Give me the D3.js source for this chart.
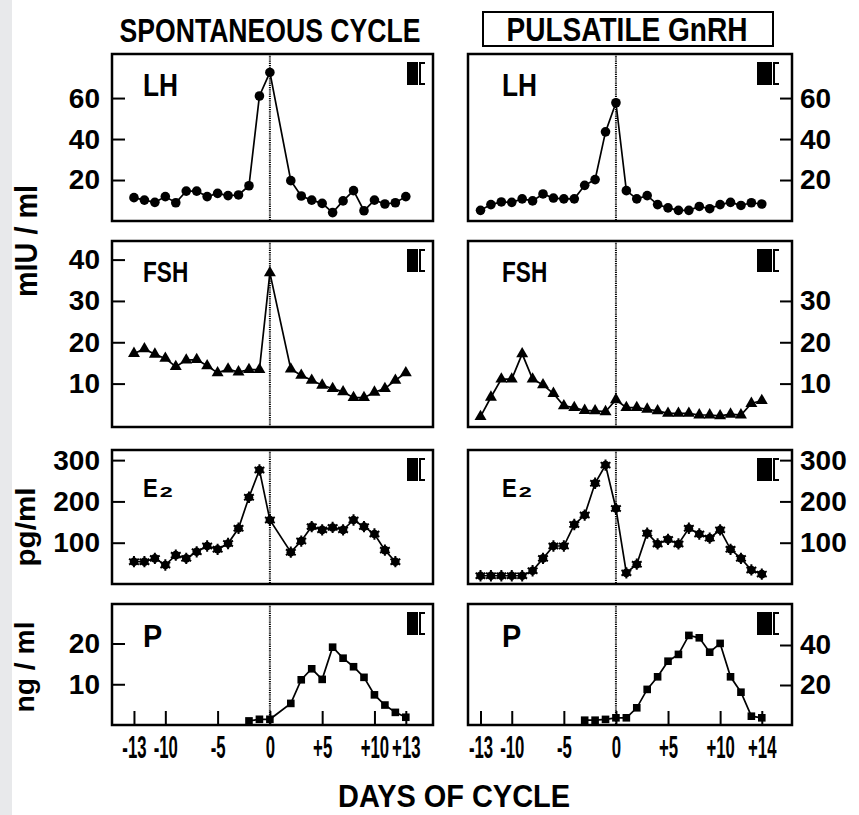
<!DOCTYPE html>
<html><head><meta charset="utf-8">
<script src="https://cdn.jsdelivr.net/npm/d3@7"></script>
<style>
html,body{margin:0;padding:0;background:#fff;}
svg{display:block;}
</style></head>
<body>
<script>
// ---------------- DATA ----------------
const daysSpont = [-13,-12,-11,-10,-9,-8,-7,-6,-5,-4,-3,-2,-1,0,2,3,4,5,6,7,8,9,10,11,12,13];
const daysPuls  = [-13,-12,-11,-10,-9,-8,-7,-6,-5,-4,-3,-2,-1,0,1,2,3,4,5,6,7,8,9,10,11,12,13,14];
const lhSpont  = [11.4,10.2,9.1,11.9,8.9,14.6,14.6,11.9,13.5,12.4,12.7,17.2,61,72.5,19.7,12.2,10.2,8.6,4.1,9.8,14.8,5.0,10.2,8.3,8.9,11.9];
const lhPuls   = [5.2,8,9.3,9.1,10.8,9.8,13.2,11.2,10.8,10.8,17.4,20.2,43.5,57.7,14.8,10.8,12.4,8,6.4,5.2,5.2,7.1,6,8,9.1,7.6,8.9,8.3];
const fshSpont = [17.3,18.4,17.1,16.1,14.1,15.7,15.8,14.3,12.6,13.5,12.8,13.4,13.4,36.8,13.5,12,10.8,9.6,8.8,8,6.6,6.6,7.9,8.8,10.8,12.6];
const fshPuls  = [2.0,6.7,11.1,11.1,17.2,11.1,9.7,7.6,4.6,4.2,3.5,3.4,3.2,6.1,4.2,4.2,3.8,3.4,2.8,2.8,2.8,2.4,2.4,2.2,2.6,2.4,5.2,5.9];
const e2SpontDays = [-13,-12,-11,-10,-9,-8,-7,-6,-5,-4,-3,-2,-1,0,2,3,4,5,6,7,8,9,10,11,12];
const e2Spont  = [54,54,62,46,70,62,78,92,84,98,135,210,276,155,77,104,139,131,137,131,155,139,121,82,54];
const e2Puls   = [20,20,20,20,20,32,62,92,92,144,167,244,288,183,27,48,123,97,108,97,135,121,111,131,84,62,34,24];
const pSpontDays = [-2,-1,0,2,3,4,5,6,7,8,9,10,11,12,13];
const pSpont   = [1.0,1.4,1.4,5.3,11.1,13.8,11.2,19.1,16.4,14.3,11.7,7.4,4.9,3.1,1.9];
const pPulsDays = [-3,-2,-1,0,1,2,3,4,5,6,7,8,9,10,11,12,13,14];
const pPuls    = [2.4,2.4,2.8,3.6,3.6,8.6,17.8,24.1,31.9,35.3,44.8,43.6,36.4,40.8,24.1,16.4,4.4,3.6];

const xTicksSpont = [-13,-10,-5,0,5,10,13];
const xTicksPuls  = [-13,-10,-5,0,5,10,14];
const lhTicks = [20,40,60];
const fshTicksSpont = [10,20,30,40];
const fshTicksPuls = [10,20,30];
const e2Ticks = [100,200,300];
const pTicksSpont = [10,20];
const pTicksPuls = [20,40];

const colTitles = ["SPONTANEOUS CYCLE","PULSATILE GnRH"];
const yTitles = ["mIU / ml","pg/ml","ng / ml"];
const xTitle = "DAYS OF CYCLE";

// ---------------- LAYOUT ----------------
const W = 859, H = 815;
const FONT = "'Liberation Sans',Arial,sans-serif";

const svg = d3.select("body").append("svg").attr("width",W).attr("height",H);
svg.append("rect").attr("x",0).attr("y",0).attr("width",W).attr("height",H).attr("fill","#fff");
svg.append("rect").attr("x",0).attr("y",0).attr("width",12).attr("height",H).attr("fill","#e8e9eb");

function squeeze(sel, f) {
  sel.each(function(){
    const L = this.getComputedTextLength();
    if (L > 0) d3.select(this).attr("textLength", L*f).attr("lengthAdjust","spacingAndGlyphs");
  });
}

const cols = [
  {x0:112, x1:433, dom:[-15.1,15.6], side:"left"},
  {x0:468, x1:792, dom:[-14.2,16.9], side:"right"}
];
const rows = [
  {y0:54, y1:221},
  {y0:241, y1:427},
  {y0:450, y1:584},
  {y0:604, y1:725}
];

const fmtX = d => d>0 ? "+"+d : (d<0 ? "-"+Math.abs(d) : "0");

const panels = [
  {r:0,c:0,days:daysSpont,vals:lhSpont,dom:[0,81.5],ticks:lhTicks,marker:"circle",name:"LH"},
  {r:0,c:1,days:daysPuls,vals:lhPuls,dom:[0,81.5],ticks:lhTicks,marker:"circle",name:"LH"},
  {r:1,c:0,days:daysSpont,vals:fshSpont,dom:[-0.5,44.5],ticks:fshTicksSpont,marker:"triangle",name:"FSH"},
  {r:1,c:1,days:daysPuls,vals:fshPuls,dom:[-0.5,44.5],ticks:fshTicksPuls,marker:"triangle",name:"FSH"},
  {r:2,c:0,days:e2SpontDays,vals:e2Spont,dom:[0,324.5],ticks:e2Ticks,marker:"star",name:"E"},
  {r:2,c:1,days:daysPuls,vals:e2Puls,dom:[0,324.5],ticks:e2Ticks,marker:"star",name:"E"},
  {r:3,c:0,days:pSpontDays,vals:pSpont,dom:[0,29.7],ticks:pTicksSpont,marker:"square",name:"P",xt:xTicksSpont},
  {r:3,c:1,days:pPulsDays,vals:pPuls,dom:[0,60.5],ticks:pTicksPuls,marker:"square",name:"P",xt:xTicksPuls}
];

const nameSize = {LH:32, FSH:29, E:26, P:32};
const nameDy = {LH:42, FSH:41, E:47, P:43};
const nameSq = {LH:0.82, FSH:0.78, E:0.85, P:0.9};

panels.forEach(p => {
  const col = cols[p.c], row = rows[p.r];
  const x = d3.scaleLinear().domain(col.dom).range([col.x0, col.x1]);
  const y = d3.scaleLinear().domain(p.dom).range([row.y1, row.y0]);
  const g = svg.append("g");

  let ax, tx;
  if (col.side === "left") {
    ax = d3.axisLeft(y).tickValues(p.ticks).tickSize(-13).tickPadding(12).tickFormat(d3.format("d"));
    tx = col.x0;
  } else {
    ax = d3.axisRight(y).tickValues(p.ticks).tickSize(-12).tickPadding(8).tickFormat(d3.format("d"));
    tx = col.x1;
  }
  const ga = g.append("g").attr("transform",`translate(${tx},0)`).call(ax);
  ga.select(".domain").remove();
  ga.selectAll(".tick line").attr("stroke","#000").attr("stroke-width",2);
  ga.selectAll(".tick text").attr("font-family",FONT).attr("font-weight","bold").attr("font-size",28).attr("fill","#000");

  if (p.xt) {
    const bx = d3.axisBottom(x).tickValues(p.xt).tickSize(-14).tickPadding(11).tickFormat(fmtX);
    const gb = g.append("g").attr("transform",`translate(0,${row.y1})`).call(bx);
    gb.select(".domain").remove();
    gb.selectAll(".tick line").attr("stroke","#000").attr("stroke-width",2);
    gb.selectAll(".tick text").attr("font-family",FONT).attr("font-weight","bold").attr("font-size",31)
      .attr("fill","#000").attr("transform","scale(0.54,1)");
  }

  g.append("line").attr("x1",x(0)).attr("x2",x(0)).attr("y1",row.y0).attr("y2",row.y1)
    .attr("stroke","#000").attr("stroke-width",2).attr("stroke-dasharray","1.2,1");

  g.append("rect").attr("x",col.x0).attr("y",row.y0).attr("width",col.x1-col.x0).attr("height",row.y1-row.y0)
    .attr("fill","none").attr("stroke","#000").attr("stroke-width",2.5);

  const pts = p.days.map((d,i)=>[d,p.vals[i]]);
  g.append("path").datum(pts)
    .attr("d", d3.line().x(d=>x(d[0])).y(d=>y(d[1])))
    .attr("fill","none").attr("stroke","#000").attr("stroke-width",1.7);

  const mg = g.append("g");
  pts.forEach(d => {
    const cx = x(d[0]), cy = y(d[1]);
    if (p.marker === "circle") {
      mg.append("circle").attr("cx",cx).attr("cy",cy).attr("r",4.8).attr("fill","#000");
    } else if (p.marker === "triangle") {
      mg.append("path").attr("transform",`translate(${cx},${cy})`).attr("d",d3.symbol(d3.symbolTriangle,62)()).attr("fill","#000");
    } else if (p.marker === "star") {
      mg.append("circle").attr("cx",cx).attr("cy",cy).attr("r",4.3).attr("fill","#000");
      mg.append("path").attr("transform",`translate(${cx},${cy})`).attr("d",d3.symbol(d3.symbolAsterisk,90)())
        .attr("fill","none").attr("stroke","#000").attr("stroke-width",2);
    } else {
      mg.append("path").attr("transform",`translate(${cx},${cy})`).attr("d",d3.symbol(d3.symbolSquare,58)()).attr("fill","#000");
    }
  });

  const lx = col.x0 + (p.c===0 ? 31 : 34);
  const t = g.append("text").attr("x",lx).attr("y",row.y0+nameDy[p.name])
    .attr("font-family",FONT).attr("font-weight","bold").attr("font-size",nameSize[p.name]).attr("fill","#000")
    .text(p.name);
  squeeze(t, nameSq[p.name]);
  if (p.name === "E") {
    const tb = t.node().getBBox();
    g.append("text").attr("x",tb.x+tb.width+2).attr("y",row.y0+nameDy[p.name])
      .attr("font-family",FONT).attr("font-weight","bold").attr("font-size",14).attr("fill","#000")
      .attr("textLength",13).attr("lengthAdjust","spacingAndGlyphs").text("2");
  }

  const ix0 = p.c===0 ? col.x1-26 : col.x1-35;
  const iw = p.c===0 ? 11 : 15;
  const iy0 = row.y0+8, iy1 = row.y0+31;
  g.append("rect").attr("x",ix0).attr("y",iy0).attr("width",iw).attr("height",iy1-iy0).attr("fill","#000");
  const bxp = ix0+iw+2;
  g.append("path").attr("d",`M${bxp+5},${iy0+1}H${bxp}V${iy1-1}H${bxp+5}`)
    .attr("fill","none").attr("stroke","#000").attr("stroke-width",2);
});

// column titles
svg.append("text").attr("x",270).attr("y",42).attr("text-anchor","middle")
  .attr("font-family",FONT).attr("font-weight","bold").attr("font-size",33)
  .attr("textLength",301).attr("lengthAdjust","spacingAndGlyphs").text(colTitles[0]);
svg.append("rect").attr("x",483).attr("y",12).attr("width",290).attr("height",34)
  .attr("fill","none").attr("stroke","#000").attr("stroke-width",2);
svg.append("text").attr("x",627).attr("y",41).attr("text-anchor","middle")
  .attr("font-family",FONT).attr("font-weight","bold").attr("font-size",33)
  .attr("textLength",241).attr("lengthAdjust","spacingAndGlyphs").text(colTitles[1]);

// y titles (rotated)
const yT = [
  {t:yTitles[0], cx:37, cy:241, len:112, fs:32},
  {t:yTitles[1], cx:35, cy:527, len:79, fs:28},
  {t:yTitles[2], cx:34, cy:667, len:91, fs:28}
];
yT.forEach(o=>{
  svg.append("text").attr("transform",`translate(${o.cx},${o.cy}) rotate(-90)`)
    .attr("text-anchor","middle").attr("font-family",FONT).attr("font-weight","bold")
    .attr("font-size",o.fs).attr("textLength",o.len).attr("lengthAdjust","spacingAndGlyphs").text(o.t);
});

// x title
svg.append("text").attr("x",454).attr("y",807).attr("text-anchor","middle")
  .attr("font-family",FONT).attr("font-weight","bold").attr("font-size",31)
  .attr("textLength",232).attr("lengthAdjust","spacingAndGlyphs").text(xTitle);
</script>
</body></html>
